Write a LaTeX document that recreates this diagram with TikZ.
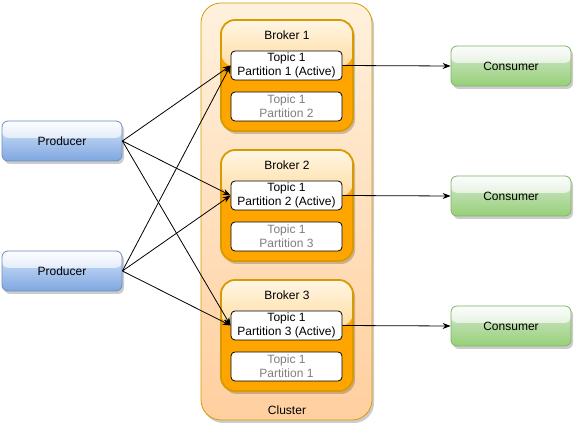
\documentclass[tikz,border=0pt]{standalone}
\usepackage{fontspec}
\setmainfont{Liberation Sans}
\usetikzlibrary{arrows.meta, calc, fadings, shadows}
\definecolor{clusterline}{HTML}{D79B00}
\definecolor{clustertop}{HTML}{FFF1DD}
\definecolor{clusterbottom}{HTML}{FFCF9F}
\definecolor{brokerfill}{HTML}{FFA500}
\definecolor{prodline}{HTML}{6C8EBF}
\definecolor{prodtop}{HTML}{DAE8FC}
\definecolor{prodbottom}{HTML}{7EA6E0}
\definecolor{consline}{HTML}{82B366}
\definecolor{constop}{HTML}{D5E8D4}
\definecolor{consbottom}{HTML}{97D077}
\definecolor{replicatext}{HTML}{7F7F7F}
\newcommand{\labelfont}{\fontsize{12}{13.8}\selectfont}
\tikzfading[name=glassfade, top color=transparent!10, bottom color=transparent!75]
\tikzset{
  glass/.style={path picture={\fill[white, path fading=glassfade] (path picture bounding box.north west) rectangle ($(path picture bounding box.north east)!0.42!(path picture bounding box.south east)$);}},
  softshadow/.style={drop shadow={shadow xshift=2pt, shadow yshift=-3pt, opacity=0.2, fill=black}},
  box/.style={draw, rounded corners=6pt, minimum width=120pt, minimum height=40pt, inner sep=0pt, line width=0.8pt, font=\labelfont},
  producer/.style={box, draw=prodline, top color=prodtop, bottom color=prodbottom, glass, softshadow},
  consumer/.style={box, draw=consline, top color=constop, bottom color=consbottom, glass, softshadow},
  clusterbox/.style={draw=clusterline, line width=0.8pt, rounded corners=20pt, minimum width=171pt, minimum height=417pt, inner sep=0pt, top color=clustertop, bottom color=clusterbottom, softshadow},
  brokerbox/.style={draw=clusterline, line width=1.8pt, fill=brokerfill, rounded corners=14pt, minimum width=132pt, minimum height=111pt, inner sep=0pt, glass, softshadow},
  partition/.style={draw=black, fill=white, line width=0.8pt, rounded corners=4pt, minimum width=111pt, minimum height=29pt, inner sep=0pt, align=center, font=\labelfont},
  replica/.style={partition, text=replicatext},
  arrow/.style={line width=0.8pt, -{Stealth[length=8pt, width=6pt]}}
}

\begin{document}
\begin{tikzpicture}[x=1pt, y=-1pt]
\useasboundingbox (0,0) rectangle (576,427);

% cluster with its three brokers
\node[clusterbox] (cluster) at (286.5, 211.5) {};
\node[font=\labelfont] (clusterlabel) at (287, 410) {Cluster};

\foreach \i/\y/\other in {1/0/2, 2/130/3, 3/260/1} {
  \node[brokerbox] (broker\i) at (287, 75.5+\y) {};
  \node[font=\labelfont] (brokerlabel\i) at (287, 35.5+\y) {Broker \i};
  \node[partition] (active\i) at (286.5, 65.5+\y) {Topic 1\\Partition \i{} (Active)};
  \node[replica] (replica\i) at (286.5, 106.5+\y) {Topic 1\\Partition \other};
  \node[consumer] (consumer\i) at (511, 66+\y) {Consumer};
}

% producers
\node[producer] (producer1) at (62, 141) {Producer};
\node[producer] (producer2) at (62, 271) {Producer};

\foreach \p in {1,2}
  \foreach \i in {1,2,3}
    \draw[arrow] (producer\p.east) -- (active\i.west);

\foreach \i in {1,2,3}
  \draw[arrow] (active\i.east) -- (consumer\i.west);
\end{tikzpicture}
\end{document}
